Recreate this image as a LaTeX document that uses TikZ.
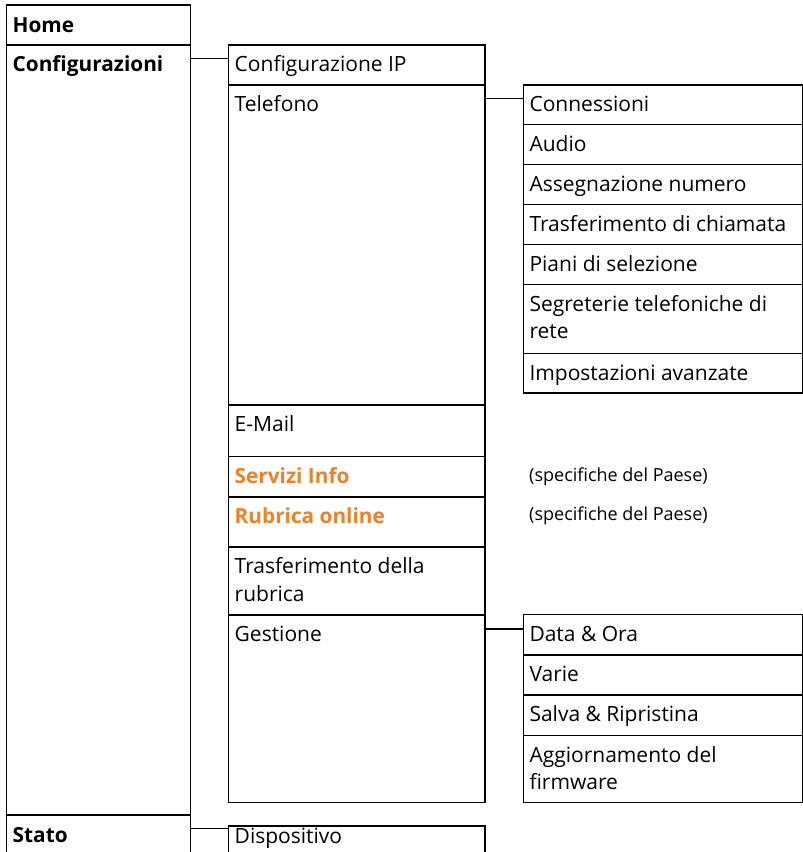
\documentclass[tikz,border=0pt]{standalone}
\usepackage{fontspec}
\setmainfont{Open Sans}
\definecolor{orangehead}{RGB}{238,128,38}
\tikzset{
  box/.style={draw, line width=1.2pt, inner sep=0pt, outer sep=0pt, anchor=north west},
  txt/.style={anchor=base west, inner sep=0pt, align=left, font=\fontsize{21}{27.5}\selectfont},
  btxt/.style={txt, font=\fontsize{20.8}{27.5}\selectfont\bfseries},
  otxt/.style={btxt, text=orangehead},
  stxt/.style={anchor=base west, inner sep=0pt, font=\fontsize{18}{20}\selectfont},
  conn/.style={line width=1.2pt}
}
\newcommand{\bx}[5]{\node[box, minimum width=#4pt, minimum height=#5pt] (#1) at (#2,#3) {};}
\begin{document}
\begin{tikzpicture}[x=1pt,y=-1pt]
\useasboundingbox (0,0) rectangle (803,852);
\clip (0,0) rectangle (803,852);
% column 1
\bx{home}{6.5}{5}{184}{40}
\bx{conf}{6.5}{45}{184}{770}
\bx{stato}{6.5}{815}{184}{60}
% column 2
\bx{cip}{228.5}{45}{256.5}{40}
\bx{tel}{228.5}{85}{256.5}{320}
\bx{mail}{228.5}{405}{256.5}{51.5}
\bx{serv}{228.5}{456.5}{256.5}{40.5}
\bx{rub}{228.5}{497}{256.5}{50}
\bx{trasf}{228.5}{547}{256.5}{68}
\bx{gest}{228.5}{615}{256.5}{187.5}
\bx{disp}{228.5}{826}{256.5}{60}
% column 3
\bx{conn}{523.3}{85}{279}{39.5}
\bx{audio}{523.3}{124.5}{279}{40}
\bx{asse}{523.3}{164.5}{279}{40}
\bx{trch}{523.3}{204.5}{279}{40}
\bx{piani}{523.3}{244.5}{279}{40}
\bx{segr}{523.3}{284.5}{279}{69}
\bx{impo}{523.3}{353.5}{279}{39.5}
\bx{data}{523.3}{614.5}{279}{40.5}
\bx{varie}{523.3}{655}{279}{40}
\bx{salva}{523.3}{695}{279}{40.5}
\bx{aggi}{523.3}{735.5}{279}{67}
% texts
\node[btxt] (thome) at ([shift={(6,27)}]home.north west) {Home};
\node[btxt] (tconf) at ([shift={(6,26.5)}]conf.north west) {Configurazioni};
\node[btxt] (tstato) at ([shift={(6,27)}]stato.north west) {Stato};
\node[txt] (tcip) at ([shift={(6,26.5)}]cip.north west) {Configurazione IP};
\node[txt] (ttel) at ([shift={(6,26.5)}]tel.north west) {Telefono};
\node[txt] (tmail) at ([shift={(6,26.5)}]mail.north west) {E-Mail};
\node[otxt] (tserv) at ([shift={(6,26.5)}]serv.north west) {Servizi Info};
\node[otxt] (trub) at ([shift={(6,26.5)}]rub.north west) {Rubrica online};
\node[txt] (ttrasf) at ([shift={(6,54)}]trasf.north west) {Trasferimento della\\rubrica};
\node[txt] (tgest) at ([shift={(6,26.5)}]gest.north west) {Gestione};
\node[txt] (tdisp) at ([shift={(6,17)}]disp.north west) {Dispositivo};
\node[txt] (tconn) at ([shift={(6,26)}]conn.north west) {Connessioni};
\node[txt] (taudio) at ([shift={(6,26.5)}]audio.north west) {Audio};
\node[txt] (tasse) at ([shift={(6,26.5)}]asse.north west) {Assegnazione numero};
\node[txt] (ttrch) at ([shift={(6,26.5)}]trch.north west) {Trasferimento di chiamata};
\node[txt] (tpiani) at ([shift={(6,26.5)}]piani.north west) {Piani di selezione};
\node[txt] (tsegr) at ([shift={(6,54)}]segr.north west) {Segreterie telefoniche di\\rete};
\node[txt] (timpo) at ([shift={(6,26.5)}]impo.north west) {Impostazioni avanzate};
\node[txt] (tdata) at ([shift={(6,26.5)}]data.north west) {Data \& Ora};
\node[txt] (tvarie) at ([shift={(6,26.5)}]varie.north west) {Varie};
\node[txt] (tsalva) at ([shift={(6,26.5)}]salva.north west) {Salva \& Ripristina};
\node[txt] (taggi) at ([shift={(6,54)}]aggi.north west) {Aggiornamento del\\firmware};
\node[stxt] (sp1) at ([shift={(44,25)}]serv.north east) {(specifiche del Paese)};
\node[stxt] (sp2) at ([shift={(44,23)}]rub.north east) {(specifiche del Paese)};
% connectors
\draw[conn] ([yshift=-13.5pt]conf.north east) coordinate (c1) -- (c1 -| cip.west);
\draw[conn] ([yshift=-13.5pt]tel.north east) coordinate (c2) -- (c2 -| conn.west);
\draw[conn] ([yshift=-14pt]gest.north east) coordinate (c3) -- (c3 -| data.west);
\draw[conn] ([yshift=-13.5pt]stato.north east) coordinate (c4) -- (c4 -| disp.west);
\end{tikzpicture}
\end{document}
